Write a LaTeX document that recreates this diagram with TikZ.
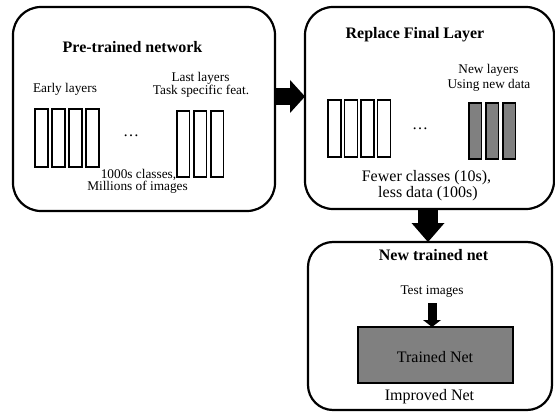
\documentclass[tikz,border=0pt]{standalone}
\usepackage{fontspec}
\setmainfont{Liberation Serif}
\usetikzlibrary{arrows.meta,calc}
\definecolor{gr}{HTML}{808080}
\begin{document}
\begin{tikzpicture}[x=1pt,y=-1pt,
  bigbox/.style={draw, line width=2.2pt, rounded corners=28pt, inner sep=0pt, outer sep=0pt},
  ttl/.style={anchor=base, inner sep=0pt, font=\fontsize{16}{19}\selectfont\bfseries},
  small/.style={anchor=base, inner sep=0pt, font=\fontsize{13.3}{15}\selectfont},
  med/.style={anchor=base, inner sep=0pt, font=\fontsize{16}{19}\selectfont},
  layer/.style={draw, line width=1.3pt},
  newlayer/.style={draw, line width=1.3pt, fill=gr},
  fatA/.style={line width=17pt, -{Triangle[length=15pt,width=33pt,line width=0pt]}},
  fatB/.style={line width=20pt, -{Triangle[length=19pt,width=33pt,line width=0pt]}},
  fatC/.style={line width=9pt, -{Triangle[length=7pt,width=18pt,line width=0pt]}}
]
\useasboundingbox (0,0) rectangle (555,412);

% big boxes
\node[bigbox, minimum width=262pt, minimum height=204pt] (b1) at (144,109) {};
\node[bigbox, minimum width=249pt, minimum height=202pt] (b2) at (429.5,108) {};
\node[bigbox, minimum width=244pt, minimum height=168pt, rounded corners=25pt] (b3) at (430,326) {};

% box 1
\node[ttl] (t1) at (132.5,52.7) {Pre-trained network};
\node[small] (el) at (65,92.7) {Early layers};
\node[small] (ll1) at (200.5,81.7) {Last layers};
\node[small] (ll2) at (201,94.3) {Task specific feat.};
\foreach \x in {35,52,69,86} \draw[layer] (\x,109) rectangle ++(13,58);
\foreach \x in {177,194,211} \draw[layer] (\x,111) rectangle ++(12.5,66);
\node[med, anchor=base] (d1) at (131,137) {…};
\node[small] (c1) at (138.5,178.3) {1000s classes,};
\node[small] (c2) at (137.5,190.7) {Millions of images};

% box 2
\node[ttl] (t2) at (415,38.3) {Replace Final Layer};
\node[small] (nl1) at (488.5,74) {New layers};
\node[small] (nl2) at (489,88.3) {Using new data};
\foreach \x in {328,344.5,361,377.5} \draw[layer] (\x,100) rectangle ++(13,57);
\foreach \x in {469,486,503} \draw[newlayer] (\x,103) rectangle ++(12.5,56);
\node[med] (d2) at (420,130) {…};
\node[med] (f1) at (426.5,181.7) {Fewer classes (10s),};
\node[med] (f2) at (428,197.3) {less data (100s)};

% box 3
\node[ttl] (t3) at (433.5,260.7) {New trained net};
\node[small] (ti) at (432,294) {Test images};
\node[draw, line width=1.5pt, fill=gr, minimum width=155pt, minimum height=56pt, inner sep=0pt, outer sep=0pt] (tn) at (435.5,355) {};
\node[med] (tnl) at (435,362.3) {Trained Net};
\node[med] (imp) at (429.5,400) {Improved Net};

% arrows
\coordinate (ah) at (290,96.5);
\coordinate (av) at (428,225);
\coordinate (as) at (432,303);
\draw[fatA] (b1.east |- ah) -- (b2.west |- ah);
\draw[fatB] (b2.south -| av) -- (b3.north -| av);
\draw[fatC] (as) -- (tn.north -| as);
\end{tikzpicture}
\end{document}
